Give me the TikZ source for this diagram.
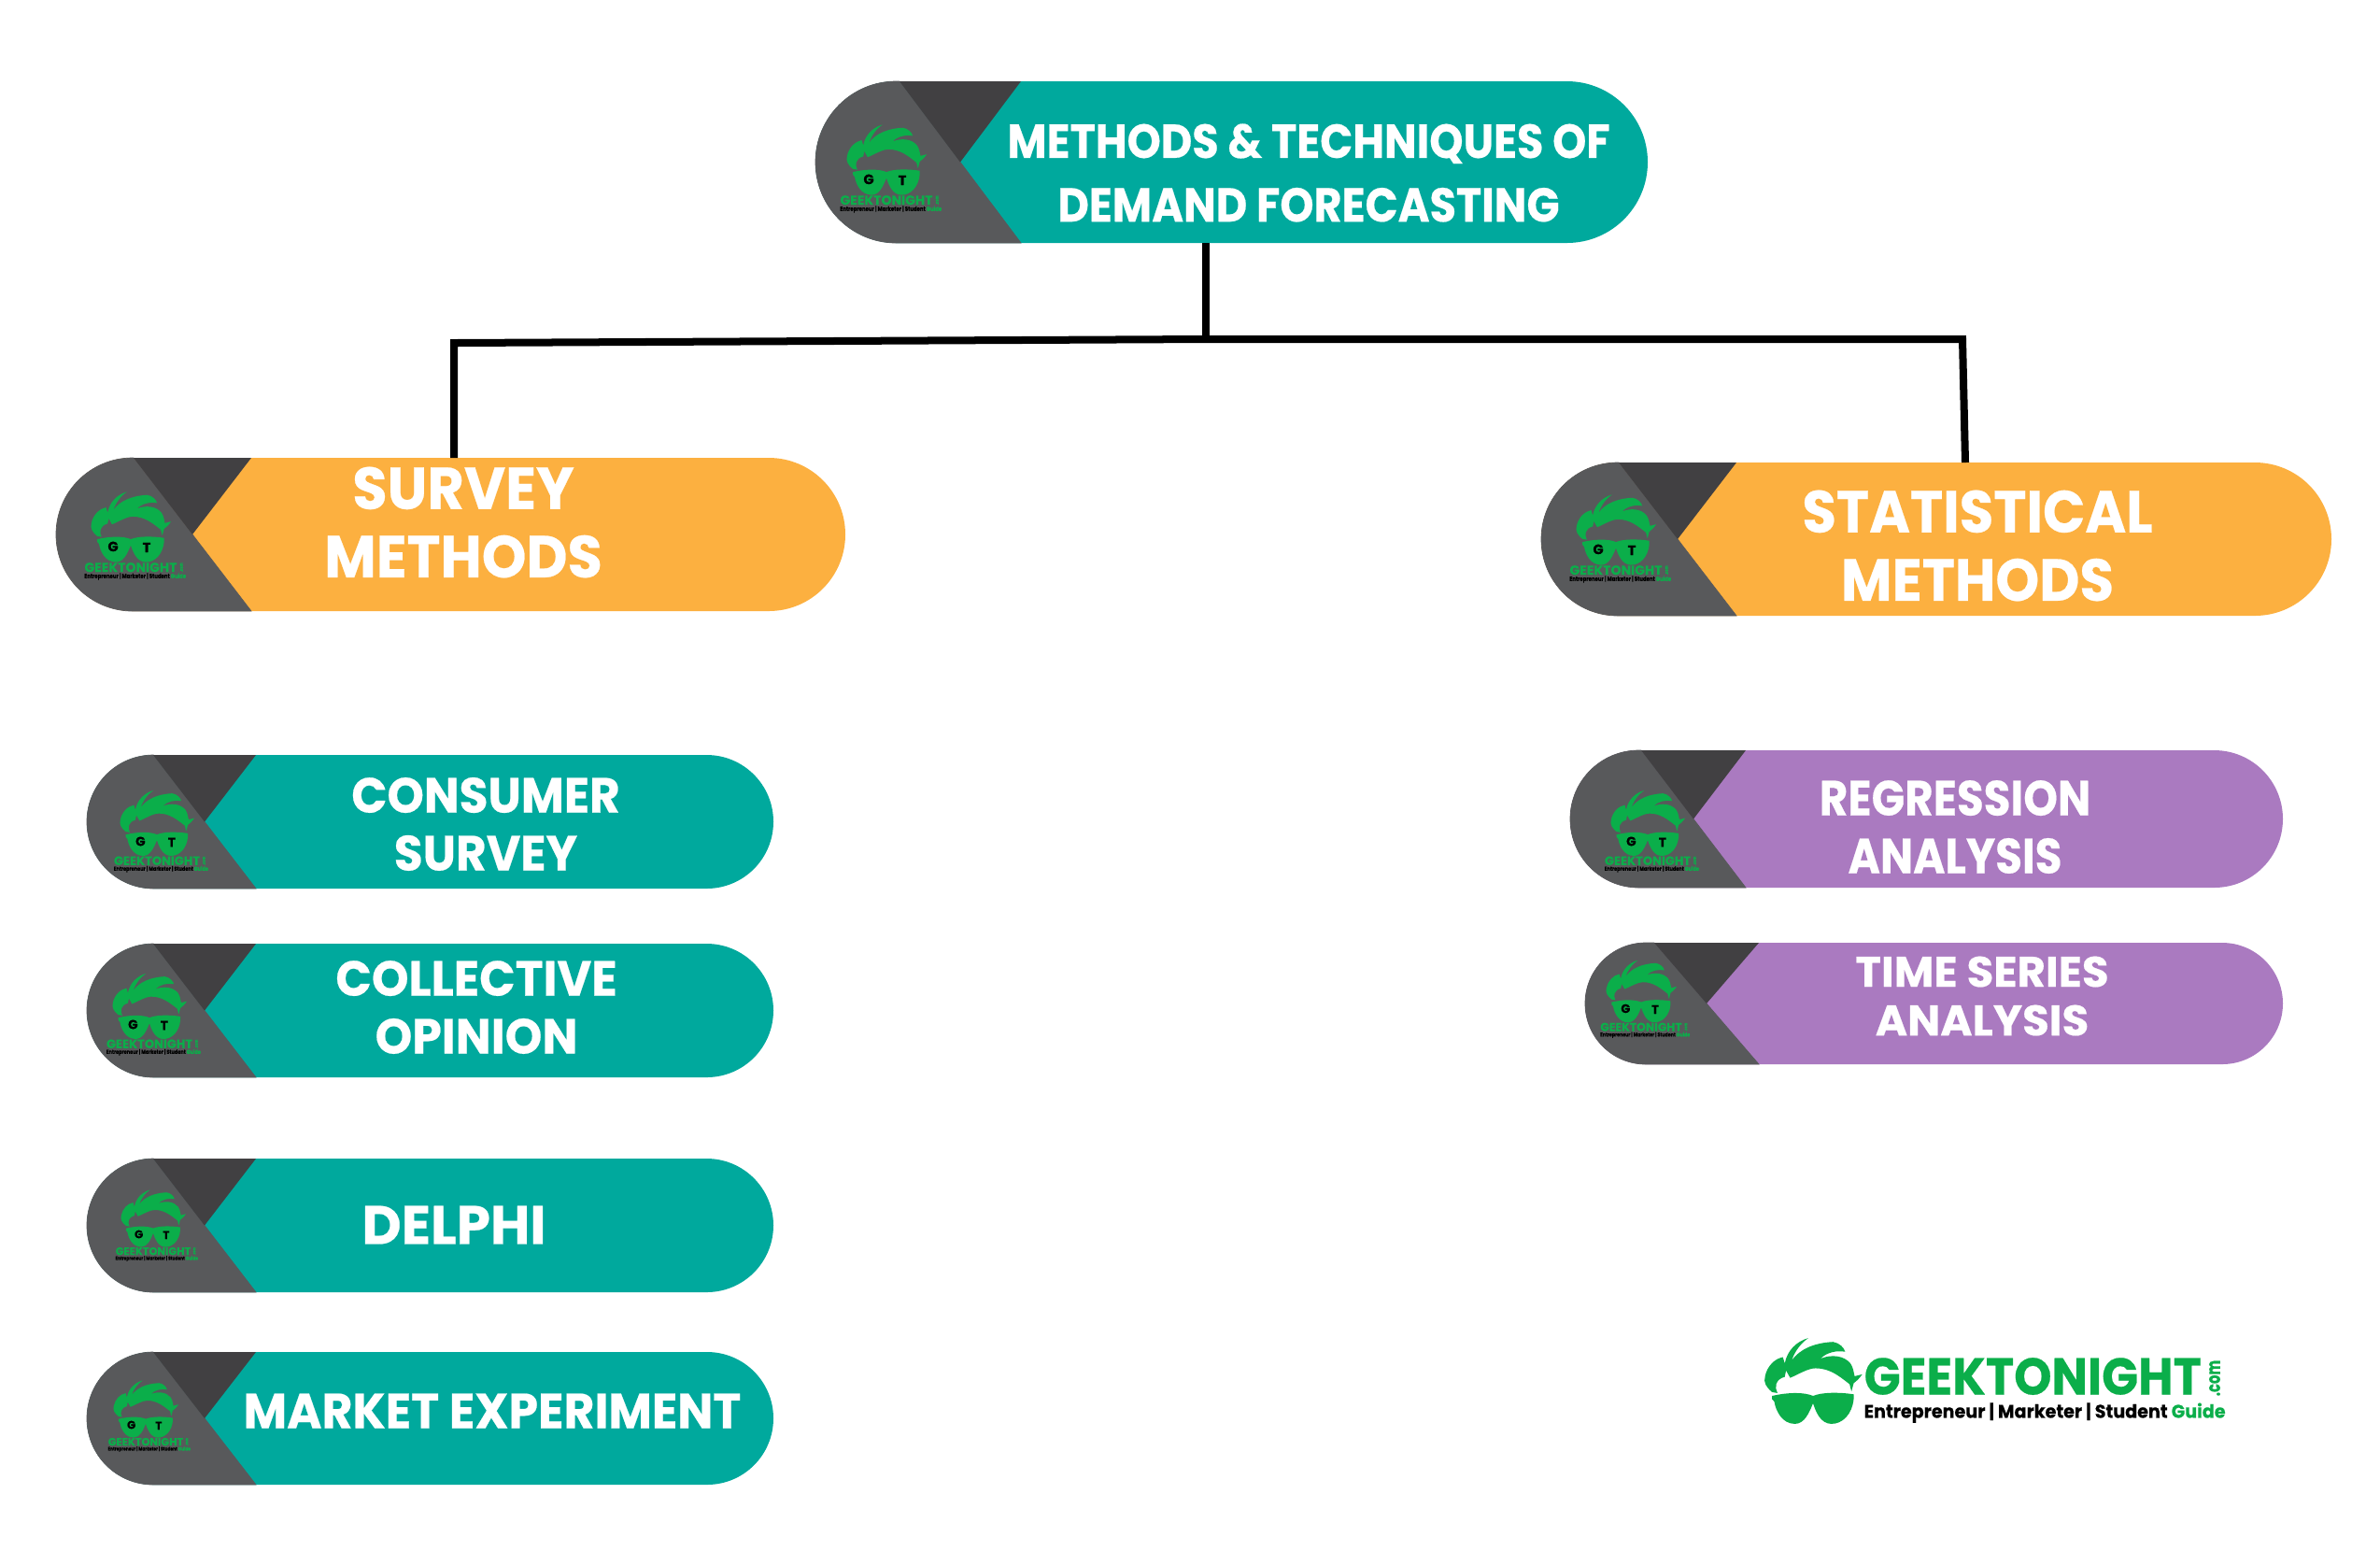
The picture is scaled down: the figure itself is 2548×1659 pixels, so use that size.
\documentclass[tikz,border=0pt]{standalone}
\usepackage{fontspec}
\usepackage{xcolor}
\usepackage{tikz}
\usetikzlibrary{positioning,calc,shapes.misc}
\setmainfont{Poppins}[BoldFeatures={FakeBold=0.4}]
\definecolor{gtteal}{HTML}{00A99D}
\definecolor{gtorange}{HTML}{FCB040}
\definecolor{gtpurple}{HTML}{AA7AC0}
\definecolor{gtgrey}{HTML}{58595B}
\definecolor{gtdark}{HTML}{414042}
\definecolor{gtgreen}{HTML}{0BAE4A}

% head of the mascot, drawn around (0,0)
\newcommand{\gthead}{%
  \begin{scope}[shift={(-207,-205)}]
    \fill[gtgreen] (78,240) .. controls (60,225) and (50,210) .. (56,190)
      .. controls (62,160) and (85,135) .. (112,130) -- (118,150)
      .. controls (125,110) and (155,80) .. (192,70)
      .. controls (170,85) and (150,110) .. (140,140)
      .. controls (165,105) and (210,85) .. (270,82)
      .. controls (290,85) and (305,100) .. (308,113)
      .. controls (280,108) and (250,115) .. (230,135)
      .. controls (265,120) and (305,125) .. (325,150)
      .. controls (335,165) and (335,180) .. (338,190) -- (362,184)
      .. controls (350,200) and (345,205) .. (335,212) -- (328,238) -- (322,215)
      .. controls (290,190) and (260,165) .. (215,165)
      .. controls (190,165) and (160,185) .. (135,195) -- (122,172) -- (118,192)
      .. controls (88,200) and (85,225) .. (95,243) -- cycle;
    \fill[gtgreen] (78,252) .. controls (130,240) and (180,240) .. (207,252)
      .. controls (235,240) and (290,240) .. (335,247) -- (335,262)
      .. controls (330,310) and (300,340) .. (265,340)
      .. controls (230,340) and (215,300) .. (207,275)
      .. controls (195,305) and (180,340) .. (150,340)
      .. controls (110,340) and (90,300) .. (85,270) -- (78,262) -- cycle;
  \end{scope}%
}

% pill: name, left, top, right, bottom, colour, wedge tip x, wedge half width
\newcommand{\pillbox}[8]{%
  \pgfmathsetmacro{\pillh}{#5-#3}
  \node[pillshape, fill=#6, minimum width={(#4-#2)*0.01cm}, minimum height={\pillh*0.01cm}]
    (#1) at ({(#2+#4)/2},{(#3+#5)/2}) {};
  \fill[gtgrey, draw=gtgrey, line width=0.2pt] ({#2+\pillh/2},#3) arc[start angle=90, end angle=270, radius=\pillh/2*0.01cm]
    -- ({#7+#8},#5) -- (#7,{(#3+#5)/2}) -- ({#7-#8},#3) -- cycle;
  \fill[gtdark] ({#7-#8},#3) -- ({#7+#8},#3) -- (#7,{(#3+#5)/2}) -- cycle;
}

% small logo on a pill: name, centre x, centre y, head width
\newcommand{\pilllogo}[4]{%
  \begin{scope}[shift={(#2,#3)}, scale={#4/305}, transform shape]
    \gthead
    \node[gtletter] (#1g) at (-68,75) {G};
    \node[gtletter] (#1t) at (61,79) {T};
    \node[logotext, text=gtgreen] (#1name) at (0,155) {\resizebox{101pt}{10.2pt}{\bfseries GEEKTONIGHT}};
    \node[logotext, text=gtgreen, rotate=90] (#1com) at (195,155) {\resizebox{10pt}{3pt}{\bfseries .com}};
    \node[logotext] (#1tag) at (17,190) {\resizebox{111pt}{5.5pt}{\bfseries Entrepreneur | Marketer | Student \textcolor{gtgreen}{Guide}}};
  \end{scope}
}

\begin{document}
\begin{tikzpicture}[
  x=0.01cm, y=-0.01cm,
  pillshape/.style={rounded rectangle, inner sep=0pt, outer sep=0pt},
  gtletter/.style={font=\fontsize{15}{15}\selectfont\bfseries, text=black, inner sep=0pt},
  logotext/.style={inner sep=0pt},
  wire/.style={black, line width=0.08cm, line join=miter},
  pilltext/.style={text=white, align=center, inner sep=0pt},
  squeeze/.style={xscale=#1, transform shape}
]
\useasboundingbox (0,0) rectangle (2548,1659);

\pillbox{toppill}{873}{87}{1764}{260}{gtteal}{1028}{65}
\pillbox{surveypill}{60}{490}{905}{654}{gtorange}{206}{63}
\pillbox{statpill}{1650}{495}{2496}{659}{gtorange}{1796}{63}
\pillbox{consumerpill}{93}{808}{828}{951}{gtteal}{219}{55}
\pillbox{collectivepill}{93}{1010}{828}{1153}{gtteal}{219}{55}
\pillbox{delphipill}{93}{1240}{828}{1383}{gtteal}{219}{55}
\pillbox{marketpill}{93}{1447}{828}{1589}{gtteal}{219}{55}
\pillbox{regressionpill}{1681}{803}{2444}{950}{gtpurple}{1813}{56}
\pillbox{timepill}{1697}{1009}{2444}{1139}{gtpurple}{1827}{56}

\pilllogo{toplogo}{949}{171}{85}
\pilllogo{surveylogo}{140}{564}{85}
\pilllogo{statlogo}{1730}{567}{85}
\pilllogo{consumerlogo}{168}{881}{79}
\pilllogo{collectivelogo}{160}{1077}{79}
\pilllogo{delphilogo}{164}{1304}{69}
\pilllogo{marketlogo}{156}{1508}{69}
\pilllogo{regressionlogo}{1764}{881}{79}
\pilllogo{timelogo}{1757}{1061}{75}

% labels
\node[pilltext, squeeze=0.904, font=\fontsize{14.5}{19.4}\selectfont\bfseries] (toptext) at (1401,185) {METHODS \& TECHNIQUES OF\\DEMAND FORECASTING};
\node[pilltext, squeeze=0.958, font=\fontsize{18}{20.8}\selectfont\bfseries] (surveytext) at (496,559) {SURVEY\\METHODS};
\node[pilltext, squeeze=0.94, font=\fontsize{18}{20.8}\selectfont\bfseries] (stattext) at (2117,584) {STATISTICAL\\METHODS};
\node[pilltext, squeeze=0.951, font=\fontsize{15}{17.6}\selectfont\bfseries] (consumertext) at (520,882) {CONSUMER\\SURVEY};
\node[pilltext, squeeze=0.958, font=\fontsize{15}{17.6}\selectfont\bfseries] (collectivetext) at (510,1078) {COLLECTIVE\\OPINION};
\node[pilltext, font=\fontsize{16.5}{18}\selectfont\bfseries] (delphitext) at (486,1311) {DELPHI};
\node[pilltext, squeeze=0.96, font=\fontsize{15}{18}\selectfont\bfseries] (markettext) at (527,1510) {MARKET EXPERIMENT};
\node[pilltext, squeeze=0.886, font=\fontsize{15}{17.6}\selectfont\bfseries] (regressiontext) at (2093,885) {REGRESSION\\ANALYSIS};
\node[pilltext, squeeze=1.02, font=\fontsize{13}{14.8}\selectfont\bfseries] (timetext) at (2122,1066) {TIME SERIES\\ANALYSIS};

% connectors
\coordinate (split) at (1291,363);
\coordinate (leftbend) at (486,367);
\coordinate (rightbend) at (2101,363);
\coordinate (rightfoot) at (2104,495);
\draw[wire] (toppill.south -| split) -- (split);
\draw[wire] (surveypill.north -| leftbend) -- (leftbend) -- (split) -- (rightbend) -- (statpill.north -| rightfoot);

% logo bottom right
\begin{scope}[shift={(1941,1478)}, scale=0.34, transform shape]
  \gthead
\end{scope}
\node[logotext, text=gtgreen, anchor=west] (logoname) at (1995,1473) {\resizebox{102.7pt}{11.2pt}{\bfseries GEEKTONIGHT}};
\node[logotext, text=gtgreen, rotate=90] (logocom) at (2371,1475) {\resizebox{10.9pt}{3.3pt}{\bfseries .com}};
\node[logotext, anchor=west] (logotag) at (1995,1512) {\resizebox{110pt}{4.6pt}{\bfseries Entrepreneur | Marketer | Student \textcolor{gtgreen}{Guide}}};
\end{tikzpicture}
\end{document}
